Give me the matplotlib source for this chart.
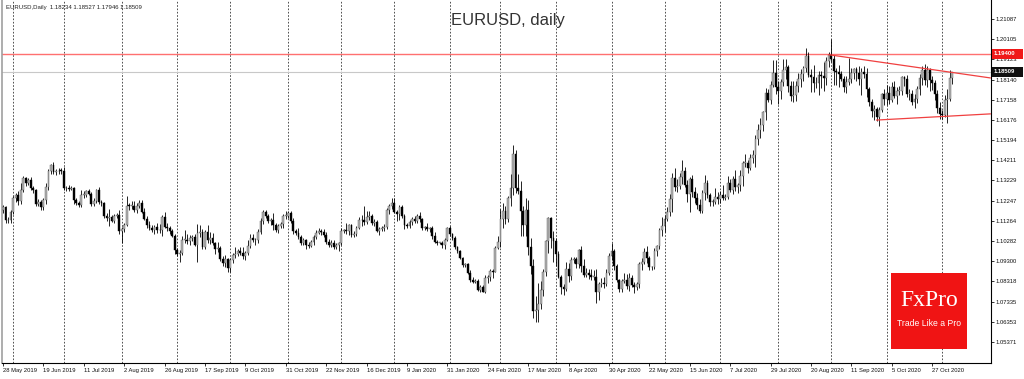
import numpy as np
import pandas as pd
import matplotlib
matplotlib.use('Agg')
import matplotlib.pyplot as plt
from matplotlib.patches import Rectangle
from matplotlib.transforms import blended_transform_factory

plt.rcParams['font.family'] = ['Liberation Sans', 'DejaVu Sans']

# EURUSD daily closes, one row per week (28 May 2019 .. 6 Nov 2020)
closes = [
    1.1193, 1.1130, 1.1130, 1.1168,
    1.1240, 1.1252, 1.1221, 1.1275, 1.1333,
    1.1313, 1.1326, 1.1288, 1.1275, 1.1209,
    1.1218, 1.1193, 1.1228, 1.1291, 1.1370,
    1.1398, 1.1366, 1.1368, 1.1371, 1.1370,
    1.1285, 1.1285, 1.1283, 1.1285, 1.1226,
    1.1211, 1.1206, 1.1253, 1.1254, 1.1271,
    1.1258, 1.1210, 1.1225, 1.1275, 1.1220,
    1.1212, 1.1151, 1.1139, 1.1146, 1.1128,
    1.1152, 1.1156, 1.1075, 1.1086, 1.1107,
    1.1201, 1.1199, 1.1201, 1.1180, 1.1201,
    1.1214, 1.1171, 1.1138, 1.1106, 1.1090,
    1.1080, 1.1096, 1.1080, 1.1082, 1.1143,
    1.1099, 1.1091, 1.1075, 1.1055, 1.0986,
    1.0965, 1.0972, 1.1034, 1.1034, 1.1027,
    1.1045, 1.1046, 1.1010, 1.1066, 1.1073,
    1.1000, 1.1073, 1.1032, 1.1042, 1.1017,
    1.0991, 1.0993, 1.0941, 1.0922, 1.0940,
    1.0898, 1.0934, 1.0958, 1.0966, 1.0978,
    1.0971, 1.0957, 1.0972, 1.1006, 1.1041,
    1.1031, 1.1031, 1.1074, 1.1124, 1.1172,
    1.1151, 1.1125, 1.1130, 1.1104, 1.1080,
    1.1100, 1.1110, 1.1150, 1.1151, 1.1165,
    1.1128, 1.1075, 1.1066, 1.1050, 1.1018,
    1.1032, 1.1010, 1.1005, 1.1022, 1.1050,
    1.1069, 1.1076, 1.1073, 1.1056, 1.1022,
    1.1010, 1.1021, 1.1000, 1.1009, 1.1018,
    1.1078, 1.1081, 1.1075, 1.1104, 1.1058,
    1.1065, 1.1093, 1.1130, 1.1131, 1.1121,
    1.1146, 1.1152, 1.1114, 1.1122, 1.1078,
    1.1088, 1.1090, 1.1099, 1.1178,
    1.1200, 1.1213,
    1.1170, 1.1160,
    1.1195, 1.1152, 1.1105, 1.1103, 1.1120,
    1.1135, 1.1125, 1.1150, 1.1135, 1.1090,
    1.1095, 1.1086, 1.1091, 1.1054, 1.1025,
    1.1020, 1.1020, 1.1010, 1.1035, 1.1093,
    1.1061, 1.1045, 1.1000, 1.0980, 1.0945,
    1.0910, 1.0915, 1.0875, 1.0841, 1.0830,
    1.0835, 1.0790, 1.0805, 1.0782, 1.0847,
    1.0852, 1.0882, 1.0880, 1.0995, 1.1026,
    1.1135, 1.1175, 1.1135, 1.1238, 1.1285,
    1.1450, 1.1285, 1.1270, 1.1175, 1.1105,
    1.1180, 1.0997, 1.0905, 1.0690, 1.0695,
    1.0720, 1.0790, 1.0880, 1.1030, 1.1140,
    1.1045, 1.1030, 1.0965, 1.0855, 1.0805,
    1.0795, 1.0890, 1.0860, 1.0935, 1.0940,
    1.0915, 1.0985, 1.0905, 1.0865, 1.0875,
    1.0865, 1.0855, 1.0855, 1.0780, 1.0820,
    1.0825, 1.0820, 1.0875, 1.0955, 1.0980,
    1.0905, 1.0840, 1.0795, 1.0835, 1.0840,
    1.0810, 1.0850, 1.0815, 1.0805, 1.0820,
    1.0915, 1.0925, 1.0975, 1.0945, 1.0900,
    1.0900, 1.0980, 1.1005, 1.1080, 1.1100,
    1.1135, 1.1170, 1.1235, 1.1335, 1.1290,
    1.1295, 1.1340, 1.1370, 1.1300, 1.1255,
    1.1330, 1.1265, 1.1240, 1.1205, 1.1175,
    1.1260, 1.1310, 1.1250, 1.1220, 1.1220,
    1.1245, 1.1235, 1.1250, 1.1240, 1.1245,
    1.1310, 1.1275, 1.1330, 1.1290, 1.1300,
    1.1345, 1.1410, 1.1410, 1.1385, 1.1430,
    1.1445, 1.1525, 1.1570, 1.1595, 1.1655,
    1.1750, 1.1715, 1.1790, 1.1845, 1.1778,
    1.1760, 1.1800, 1.1860, 1.1875, 1.1785,
    1.1735, 1.1740, 1.1785, 1.1815, 1.1840,
    1.1870, 1.1930, 1.1835, 1.1825, 1.1795,
    1.1795, 1.1835, 1.1830, 1.1820, 1.1905,
    1.1935, 1.1915, 1.1855, 1.1850, 1.1840,
    1.1815, 1.1780, 1.1800, 1.1815, 1.1845,
    1.1865, 1.1845, 1.1815, 1.1850, 1.1840,
    1.1770, 1.1705, 1.1660, 1.1670, 1.1630,
    1.1665, 1.1745, 1.1720, 1.1750, 1.1715,
    1.1780, 1.1735, 1.1760, 1.1760, 1.1825,
    1.1815, 1.1745, 1.1745, 1.1705, 1.1720,
    1.1770, 1.1820, 1.1860, 1.1810, 1.1860,
    1.1810, 1.1795, 1.1745, 1.1675, 1.1645,
    1.1640, 1.1715, 1.1720, 1.1823, 1.1851,
]

# wick length above / below the body, in pips
up_wick = [
    12, 8, 15, 10,
    8, 12, 22, 34, 14,
    5, 10, 14, 8, 6,
    15, 10, 12, 20, 9,
    6, 14, 10, 12, 12,
    20, 12, 14, 10, 8,
    10, 14, 26, 18, 8,
    10, 10, 12, 8, 14,
    10, 8, 12, 40, 10,
    8, 10, 24, 10, 10,
    48, 12, 24, 24, 10,
    16, 16, 20, 10, 22,
    14, 12, 20, 30, 10,
    28, 18, 12, 14, 10,
    10, 14, 20, 50, 30,
    12, 10, 16, 44, 35,
    12, 10, 35, 32, 26,
    8, 30, 10, 14, 18,
    8, 10, 10, 34, 14,
    22, 28, 10, 25, 21,
    20, 10, 12, 15, 7,
    8, 10, 10, 34, 14,
    10, 12, 10, 25, 10,
    10, 12, 12, 26, 6,
    10, 8, 14, 10, 10,
    12, 16, 10, 14, 18,
    14, 10, 10, 8, 8,
    12, 8, 35, 6, 8,
    10, 8, 16, 24, 69,
    29, 23, 8, 16, 10,
    10, 10, 10, 10,
    8, 26,
    26, 10,
    10, 10, 10, 10, 10,
    10, 16, 10, 22, 6,
    8, 22, 6, 10, 16,
    10, 6, 10, 8, 3,
    8, 8, 6, 6, 4,
    6, 8, 6, 10, 12,
    8, 8, 8, 8, 16,
    10, 12, 12, 10, 28,
    50, 38, 25, 10, 70,
    46, 20, 70, 50, 25,
    60, 50, 48, 35, 65,
    106, 45, 10, 5, 7,
    5, 30, 15, 15, 10,
    15, 35, 30, 17, 12,
    10, 5, 20, 35, 20,
    15, 25, 30, 36, 10,
    25, 30, 15, 17, 39,
    10, 10, 5, 10, 35,
    30, 25, 15, 15, 10,
    10, 20, 20, 30, 10,
    5, 15, 5, 10, 45,
    20, 25, 22, 25, 48,
    35, 20, 52, 20, 25,
    10, 20, 25, 20, 30,
    15, 39, 15, 10, 15,
    40, 20, 20, 50, 10,
    35, 20, 15, 45, 10,
    30, 10, 42, 15, 20,
    25, 20, 30, 30, 5,
    25, 20, 15, 63, 64,
    30, 15, 56, 40, 10,
    20, 65, 20, 30, 25,
    10, 36, 20, 30, 60,
    30, 20, 20, 70, 20,
    15, 76, 20, 15, 35,
    15, 15, 30, 102, 25,
    5, 10, 37, 20, 30,
    30, 10, 15, 20, 10,
    15, 5, 25, 40, 35,
    20, 28, 20, 25, 5,
    5, 20, 25, 20, 25,
    15, 20, 20, 30, 20,
    10, 20, 15, 20, 30,
    20, 25, 50, 37, 2,
]
dn_wick = [
    15, 14, 14, 12,
    10, 20, 15, 12, 8,
    18, 12, 10, 15, 8,
    8, 12, 14, 20, 14,
    14, 10, 14, 12, 14,
    10, 14, 12, 8, 18,
    8, 12, 10, 14, 10,
    8, 12, 10, 14, 10,
    12, 10, 14, 38, 8,
    12, 12, 10, 58, 12,
    6, 20, 15, 12, 14,
    14, 8, 8, 16, 6,
    10, 16, 12, 12, 31,
    8, 12, 10, 8, 22,
    10, 39, 12, 14, 14,
    16, 16, 8, 83, 16,
    10, 10, 12, 18, 8,
    26, 16, 10, 14, 20,
    19, 20, 14, 10, 12,
    10, 16, 22, 10, 12,
    8, 20, 10, 12, 15,
    12, 8, 18, 20, 10,
    12, 8, 16, 16, 10,
    12, 11, 10, 14, 10,
    10, 18, 10, 8, 12,
    10, 8, 16, 8, 8,
    10, 10, 8, 10, 28,
    8, 12, 10, 16, 10,
    12, 14, 8, 28, 16,
    12, 14, 8, 12, 8,
    18, 10, 14, 12,
    16, 16,
    6, 34,
    30, 10, 18, 10, 12,
    12, 10, 8, 12, 6,
    8, 10, 12, 18, 6,
    12, 8, 14, 18, 6,
    8, 12, 8, 12, 6,
    6, 10, 8, 14, 8,
    6, 6, 12, 4, 8,
    24, 20, 30, 2, 5,
    26, 45, 25, 13, 40,
    35, 25, 15, 120, 50,
    53, 37, 35, 35, 54,
    59, 20, 30, 20, 60,
    50, 105, 60, 5, 35,
    27, 10, 30, 20, 14,
    18, 20, 25, 10, 10,
    20, 15, 15, 53, 40,
    15, 20, 10, 10, 20,
    20, 10, 13, 15, 10,
    15, 25, 10, 30, 15,
    20, 30, 10, 25, 15,
    15, 10, 25, 15, 25,
    30, 10, 20, 65, 20,
    25, 15, 35, 10, 35,
    87, 20, 25, 20, 10,
    10, 30, 10, 20, 20,
    10, 25, 20, 10, 10,
    10, 10, 20, 20, 30,
    30, 50, 20, 25, 10,
    20, 55, 30, 40, 30,
    40, 10, 20, 10, 35,
    64, 40, 15, 45, 30,
    25, 30, 30, 30, 35,
    35, 20, 8, 70, 42,
    20, 55, 58, 60, 30,
    30, 15, 65, 60, 60,
    10, 25, 30, 10, 20,
    30, 40, 25, 78, 20,
    40, 20, 30, 45, 18,
    40, 10, 30, 30, 20,
    10, 10, 40, 20, 20,
    30, 15, 30, 15, 30,
    20, 30, 30, 20, 30,
    50, 30, 30, 25, 25,
    20, 10, 112, 10, 29,
]
first_open = 1.1180

holidays = ['2019-12-25', '2020-01-01']
price_ticks = [1.21087, 1.20105, 1.19123, 1.18140, 1.17158, 1.16176, 1.15194,
               1.14211, 1.13229, 1.12247, 1.11264, 1.10282, 1.09300, 1.08318,
               1.07335, 1.06353, 1.05371]
level_red = 1.19400
last_price = 1.18509
last_bar = [1.18234, 1.18527, 1.17946, 1.18509]   # O H L C shown top-left
# drawn trendlines: (bar index, price) of both ends
upper_line = [(327, 1.1935), (391, 1.1822)]
lower_line = [(346, 1.1617), (391, 1.1647)]

# --- bars and dates ---
dates = pd.bdate_range('2019-05-28', '2020-11-06')
dates = dates[~dates.isin(pd.to_datetime(holidays))]
c = np.array(closes)
o = np.concatenate([[first_open], c[:-1]])
hi = np.maximum(o, c) + np.array(up_wick) * 1e-4
lo = np.minimum(o, c) - np.array(dn_wick) * 1e-4
x = np.arange(len(c))

W, H = 1024, 379
fig = plt.figure(figsize=(W / 100, H / 100), dpi=100)
ax = fig.add_axes([2 / W, 16 / H, 989 / W, 363 / H])

px_per_unit = (342 - 19) / (1.21087 - 1.05371)
ax.set_ylim(1.21087 - (363 - 19) / px_per_unit, 1.21087 + 19 / px_per_unit)
ax.set_xlim((2 - 3) / 2.525, (991 - 3) / 2.525)

# monthly grid (first bar of every month)
month_start = [i for i in range(1, len(dates)) if dates[i].month != dates[i - 1].month]
for i in month_start:
    ax.axvline(i, color='#333333', lw=0.6, ls=(0, (2, 2)), zorder=0)

# horizontal level, bid line, trendlines
ax.axhline(level_red, color='#ff7070', lw=1.0, zorder=1)
ax.axhline(last_price, color='#c8c8c8', lw=0.8, zorder=1)
for line in (upper_line, lower_line):
    ax.plot([p[0] for p in line], [p[1] for p in line], color='#f04040', lw=0.9, zorder=4)

# candles
ax.vlines(x, lo, hi, color='black', lw=0.6, zorder=2)
bull = c >= o
body = np.maximum(np.abs(c - o), 0.0003)
bottom = np.minimum(o, c)
ax.bar(x[bull], body[bull], bottom=bottom[bull], width=0.72, color='#b4b4b4',
       edgecolor='#555555', linewidth=0.3, zorder=3)
ax.bar(x[~bull], body[~bull], bottom=bottom[~bull], width=0.72, color='black',
       edgecolor='black', linewidth=0.3, zorder=3)

# axes styling
for s in ('top',):
    ax.spines[s].set_visible(False)
ax.spines['left'].set_color('#a0a0a0')
ax.spines['left'].set_linewidth(1.2)
ax.spines['right'].set_linewidth(0.8)
ax.spines['bottom'].set_linewidth(0.8)

ax.yaxis.tick_right()
ax.set_yticks(price_ticks)
ax.set_yticklabels([f'{v:.5f}' for v in price_ticks])
ax.tick_params(axis='y', direction='out', length=2.2, width=0.6, pad=0.8,
               labelsize=4.2, colors='#111111')

tick_idx = list(range(0, len(dates), 16))
ax.set_xticks(tick_idx)
ax.set_xticklabels([f'{dates[i].day} {dates[i].strftime("%b %Y")}' for i in tick_idx],
                   ha='left')
ax.tick_params(axis='x', direction='out', length=2.2, width=0.6, pad=1.5,
               labelsize=4.2, colors='#111111')

# price boxes on the right scale
tr = blended_transform_factory(fig.transFigure, ax.transData)
box_h = 10 / px_per_unit
for val, col in ((level_red, '#f01818'), (last_price, '#111111')):
    ax.add_patch(Rectangle((992 / W, val - box_h / 2), 31 / W, box_h, transform=tr,
                           facecolor=col, edgecolor='none', clip_on=False, zorder=6))
    ax.text(994 / W, val, f'{val:.5f}', transform=tr, color='white', fontsize=4.2,
            fontweight='bold', ha='left', va='center', zorder=7, clip_on=False)

# texts
fig.text(6 / W, 1 - 7 / H,
         'EURUSD,Daily  ' + ' '.join(f'{v:.5f}' for v in last_bar),
         fontsize=4.3, color='#222222', ha='left', va='center')
fig.text(508 / W, 1 - 21 / H, 'EURUSD, daily', fontsize=12, color='#333333',
         ha='center', va='center')

# FxPro badge
fig.patches.append(Rectangle((891 / W, 1 - 349 / H), 76 / W, 76 / H, transform=fig.transFigure,
                             facecolor='#f01414', edgecolor='none', zorder=5))
fig.text(929 / W, 1 - 301 / H, 'FxPro', fontsize=17, color='white',
         family=['Liberation Serif', 'DejaVu Serif'], ha='center', va='center', zorder=6)
fig.text(929 / W, 1 - 323 / H, 'Trade Like a Pro', fontsize=6.2, color='white',
         ha='center', va='center', zorder=6)

fig.savefig('out.png', dpi=100)
